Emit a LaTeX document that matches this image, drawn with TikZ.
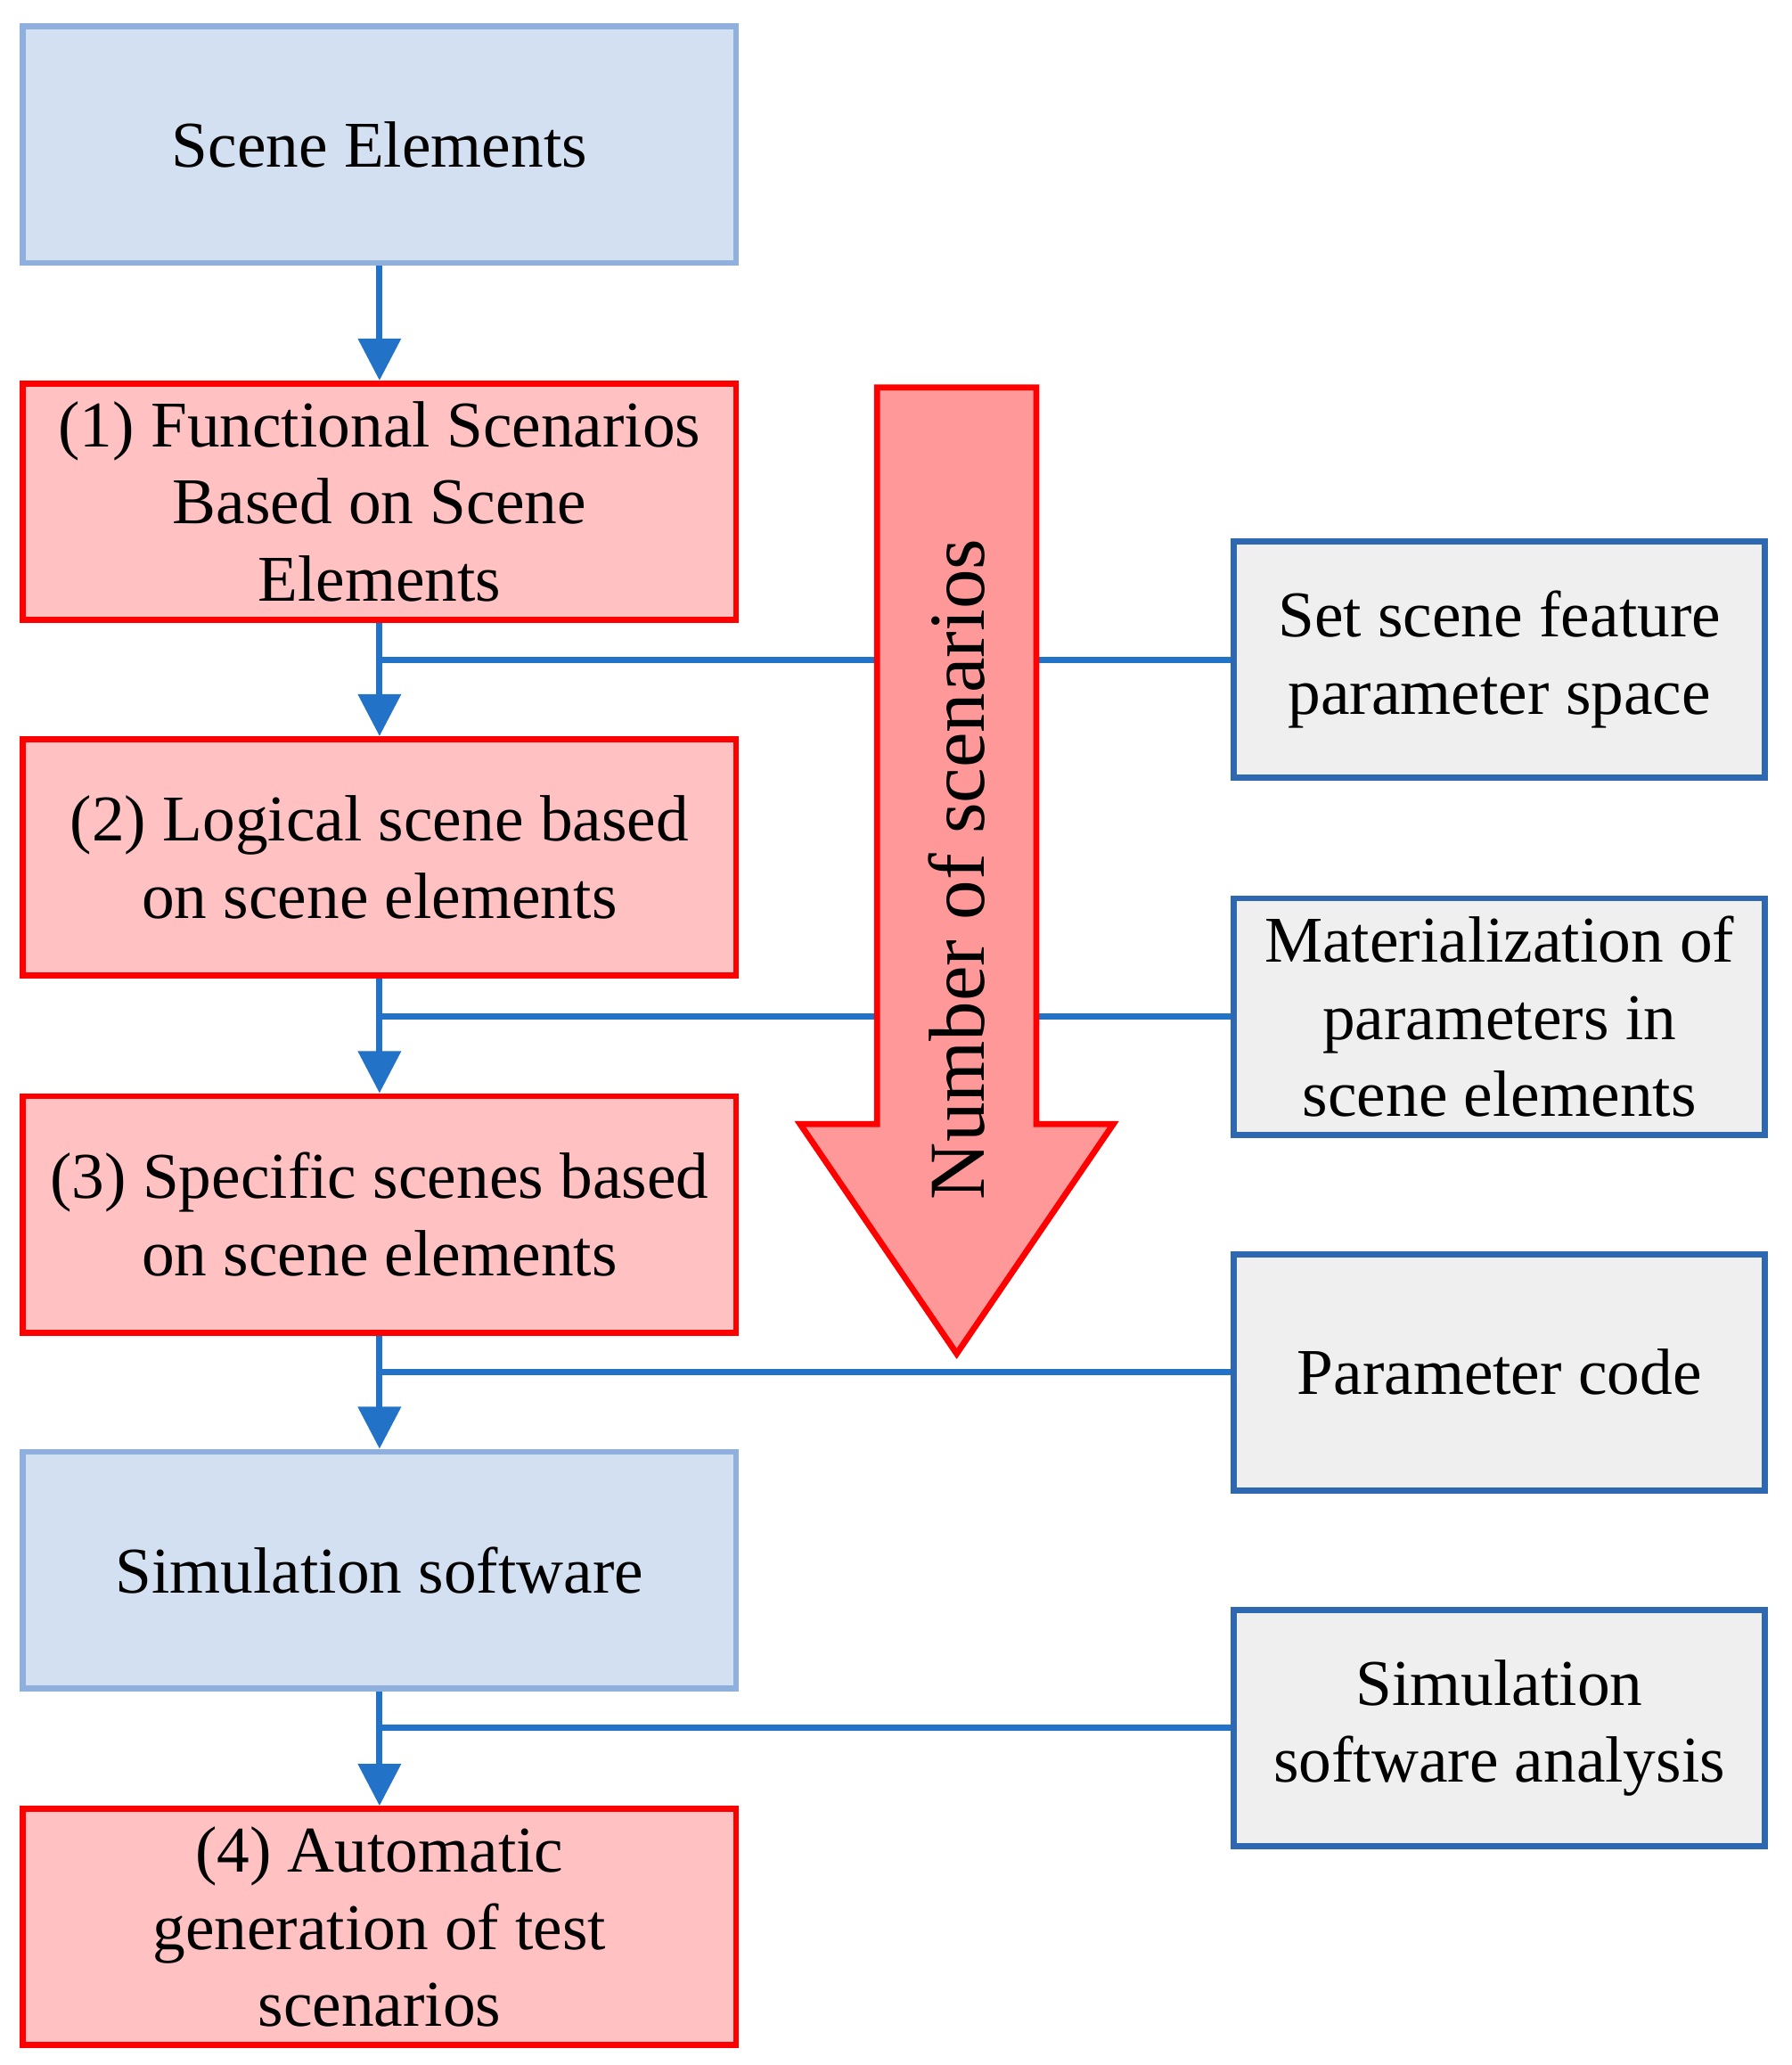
\documentclass[tikz,border=0pt]{standalone}
\usepackage{fontspec}
\setmainfont{Liberation Serif}
\begin{document}
\definecolor{bfill}{HTML}{D3E0F1}\definecolor{bdraw}{HTML}{8FB0DC}
\definecolor{rfill}{HTML}{FFC1C1}\definecolor{gfill}{HTML}{EFEFEF}
\definecolor{gdraw}{HTML}{2E68B0}\definecolor{line}{HTML}{2272C8}
\definecolor{afill}{HTML}{FF9999}
\begin{tikzpicture}[x=0.01cm,y=-0.01cm,
 box/.style={minimum width=5.37cm,minimum height=1.78cm,align=center,line width=1.3pt,inner sep=2pt,font=\fontsize{14}{16.5}\selectfont},
 bb/.style={box,fill=bfill,draw=bdraw},
 rb/.style={box,fill=rfill,draw=red},
 gb/.style={box,fill=gfill,draw=gdraw,minimum width=4cm},
 ar/.style={line,line width=1.3pt,-{Triangle[length=9pt,width=9pt]}},
 ln/.style={line,line width=1.3pt}]
\usetikzlibrary{arrows.meta}
\useasboundingbox (0,0) rectangle (1350,1556);
\node[bb] (se) at (286,109) {Scene Elements};
\node[rb] (f1) at (286,378) {(1) Functional Scenarios\\Based on Scene\\Elements};
\node[rb] (f2) at (286,646) {(2) Logical scene based\\on scene elements};
\node[rb] (f3) at (286,915) {(3) Specific scenes based\\on scene elements};
\node[bb] (sim) at (286,1183) {Simulation software};
\node[rb] (f4) at (286,1452) {(4) Automatic\\generation of test\\scenarios};
\node[gb] (g1) at (1130,497) {Set scene feature\\parameter space};
\node[gb] (g2) at (1130,766) {Materialization of\\parameters in\\scene elements};
\node[gb] (g3) at (1130,1034) {Parameter code};
\node[gb] (g4) at (1130,1302) {Simulation\\software analysis};
\draw[ar] (se) -- (f1);\draw[ar] (f1) -- (f2);\draw[ar] (f2) -- (f3);
\draw[ar] (f3) -- (sim);\draw[ar] (sim) -- (f4);
\foreach \g/\y in {g1/497,g2/766,g3/1034,g4/1302}
  \draw[ln] (287,\y) -- (\g.west);
\draw[red,line width=1.3pt,fill=afill] (661,292) -- (781,292) -- (781,847) -- (839,847) -- (721,1020) -- (603,847) -- (661,847) -- cycle;
\node[rotate=90,font=\fontsize{17}{20}\selectfont] (lab) at (721,655) {Number of scenarios};
\end{tikzpicture}
\end{document}
